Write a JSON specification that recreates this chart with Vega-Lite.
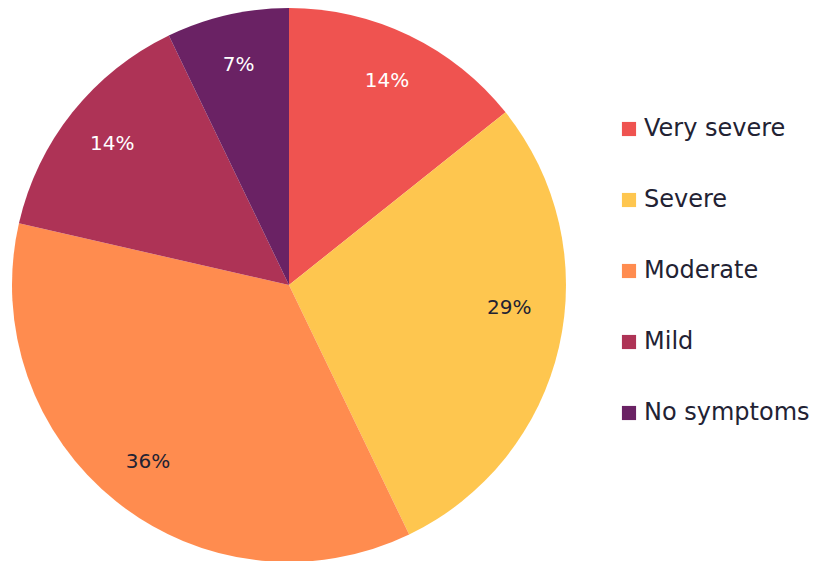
{
  "$schema": "https://vega.github.io/schema/vega-lite/v6.json",
  "autosize": "none",
  "padding": {"top": 9, "left": 0, "right": 245, "bottom": 0},
  "width": 578,
  "height": 552,
  "background": "white",
  "config": {"view": {"stroke": null}, "font": "DejaVu Sans"},
  "data": {"values": [
    {"category": "Very severe", "count": 2, "label": "14%", "order": 1},
    {"category": "Severe", "count": 4, "label": "29%", "order": 2},
    {"category": "Moderate", "count": 5, "label": "36%", "order": 3},
    {"category": "Mild", "count": 2, "label": "14%", "order": 4},
    {"category": "No symptoms", "count": 1, "label": "7%", "order": 5}
  ]},
  "encoding": {
    "theta": {"field": "count", "type": "quantitative", "stack": true},
    "order": {"field": "order", "type": "quantitative"}
  },
  "layer": [
    {
      "mark": {"type": "arc", "radius": 277},
      "encoding": {
        "color": {
          "field": "category", "type": "nominal",
          "scale": {"domain": ["Very severe", "Severe", "Moderate", "Mild", "No symptoms"],
                    "range": ["#EF5350", "#FEC64F", "#FF8C4F", "#AE3356", "#6A2264"]},
          "legend": {
            "title": null, "orient": "none", "legendX": 617, "legendY": 108,
            "symbolType": "square", "symbolSize": 200, "symbolStrokeWidth": 0, "symbolOpacity": 1,
            "labelFontSize": 24, "labelColor": "#222233", "rowPadding": 47, "labelOffset": 3,
            "labelFont": "DejaVu Sans", "labelLimit": 300
          }
        }
      }
    },
    {
      "mark": {"type": "text", "radius": 226, "fontSize": 20, "font": "DejaVu Sans",
               "dy": {"expr": "datum.category === 'Severe' ? -27 : 0"}},
      "encoding": {
        "text": {"field": "label"},
        "color": {
          "condition": {"test": "datum.category === 'Severe' || datum.category === 'Moderate'", "value": "#222233"},
          "value": "#FFFFFF"
        }
      }
    }
  ]
}
